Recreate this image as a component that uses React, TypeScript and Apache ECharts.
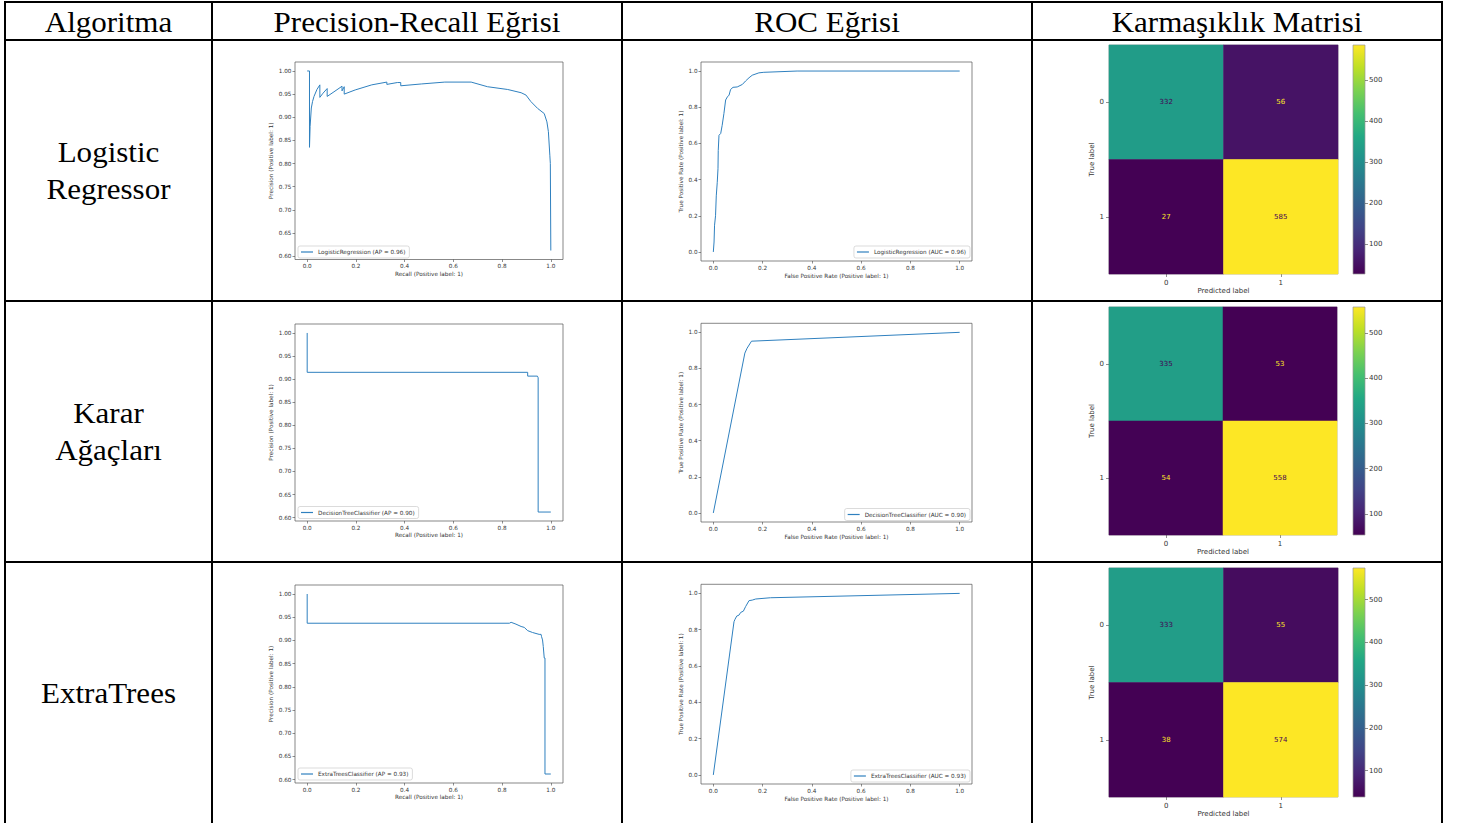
import React, { useEffect, useRef } from 'react';
import * as echarts from 'echarts';

const W = 1458;
const H = 823;

// ---------- data ----------
const headers = ['Algoritma', 'Precision-Recall Eğrisi', 'ROC Eğrisi', 'Karmaşıklık Matrisi'];
const rowLabels = [['Logistic', 'Regressor'], ['Karar', 'Ağaçları'], ['ExtraTrees']];
const modelNames = ['LogisticRegression', 'DecisionTreeClassifier', 'ExtraTreesClassifier'];
const apScores = ['0.96', '0.90', '0.93'];
const aucScores = ['0.96', '0.90', '0.93'];

const prLogistic = [
  [0.0, 1.0], [0.0095, 1.0], [0.0095, 0.835], [0.012, 0.88], [0.017, 0.92], [0.022, 0.934],
  [0.028, 0.945], [0.04, 0.96], [0.052, 0.97], [0.052, 0.943], [0.065, 0.952], [0.082, 0.962],
  [0.082, 0.945], [0.11, 0.955], [0.143, 0.967], [0.143, 0.957], [0.152, 0.966], [0.152, 0.95],
  [0.197, 0.959], [0.265, 0.97], [0.327, 0.976], [0.327, 0.971], [0.37, 0.975], [0.384, 0.975],
  [0.384, 0.968], [0.47, 0.972], [0.565, 0.976], [0.673, 0.976], [0.74, 0.966], [0.823, 0.96],
  [0.878, 0.953], [0.898, 0.948], [0.918, 0.934], [0.946, 0.919], [0.973, 0.908], [0.984, 0.89],
  [0.99, 0.869], [0.996, 0.818], [0.998, 0.8], [1.0, 0.612],
];
const prTree = [
  [0.0, 1.0], [0.0, 0.9147], [0.905, 0.9147], [0.905, 0.9065], [0.945, 0.9065], [0.948, 0.903],
  [0.948, 0.612], [1.0, 0.612],
];
const prExtra = [
  [0.0, 1.0], [0.0, 0.937], [0.83, 0.937], [0.837, 0.939], [0.857, 0.935], [0.878, 0.93],
  [0.891, 0.928], [0.905, 0.921], [0.925, 0.917], [0.952, 0.913], [0.96, 0.913], [0.962, 0.908],
  [0.966, 0.901], [0.969, 0.887], [0.973, 0.862], [0.976, 0.862], [0.976, 0.612], [1.0, 0.612],
];

const rocLogistic = [
  [0, 0], [0.003, 0.055], [0.005, 0.148], [0.009, 0.2], [0.012, 0.31], [0.016, 0.385],
  [0.019, 0.46], [0.02, 0.56], [0.023, 0.645], [0.03, 0.655], [0.036, 0.7], [0.043, 0.765],
  [0.05, 0.84], [0.057, 0.857], [0.064, 0.867], [0.07, 0.898], [0.08, 0.91], [0.097, 0.912],
  [0.118, 0.926], [0.131, 0.945], [0.145, 0.963], [0.158, 0.977], [0.185, 0.99], [0.205, 0.993],
  [0.34, 1.0], [1.0, 1.0],
];
const rocTree = [[0, 0], [0.128, 0.885], [0.137, 0.912], [0.155, 0.951], [1.0, 1.0]];
const rocExtra = [
  [0, 0], [0.084, 0.844], [0.088, 0.857], [0.095, 0.875], [0.104, 0.88], [0.111, 0.895],
  [0.122, 0.902], [0.131, 0.927], [0.145, 0.96], [0.158, 0.963], [0.172, 0.969], [0.232, 0.976],
  [1.0, 1.0],
];

const cmLabels = ['0', '1'];
const cmLogistic = [[332, 56], [27, 585]];
const cmTree = [[335, 53], [54, 558]];
const cmExtra = [[333, 55], [38, 574]];

const prTicksX = [0, 0.2, 0.4, 0.6, 0.8, 1.0];
const prTicksY = [0.6, 0.65, 0.7, 0.75, 0.8, 0.85, 0.9, 0.95, 1.0];
const rocTicks = [0, 0.2, 0.4, 0.6, 0.8, 1.0];
const cbTicks = [100, 200, 300, 400, 500];

const prCurves = [prLogistic, prTree, prExtra];
const rocCurves = [rocLogistic, rocTree, rocExtra];
const cms = [cmLogistic, cmTree, cmExtra];

// ---------- layout / style ----------
const colX = [5, 212, 622, 1032, 1442];
const rowY = [2, 40, 301, 562];
const prBoxes = [
  { l: 295, t: 62, w: 268, h: 197.5 },
  { l: 295, t: 324, w: 268, h: 197 },
  { l: 295, t: 585, w: 268, h: 198 },
];
const rocBoxes = [
  { l: 701, t: 62, w: 271, h: 199 },
  { l: 701, t: 323.3, w: 271, h: 198.7 },
  { l: 701, t: 584.3, w: 271, h: 199.7 },
];
const cmBoxes = [
  { l: 1109, t: 45, s: 229 },
  { l: 1109, t: 307, s: 228 },
  { l: 1109, t: 568, s: 229 },
];
const cbX = 1353;
const cbW = 12;
const prLegendTop = [246, 506.5, 768];
const rocLegendTop = [246, 508.5, 770];

const viridis = [
  '#440154', '#482475', '#414487', '#355f8d', '#2a788e', '#21918c',
  '#22a884', '#44bf70', '#7ad151', '#bddf26', '#fde725',
];
const lineColor = '#2f80bf';
const mplFont = 'DejaVu Sans';
const fs = 5.7;
const txt = '#333';

function buildOption() {
  const grid: any[] = [];
  const xAxis: any[] = [];
  const yAxis: any[] = [];
  const series: any[] = [];
  const legend: any[] = [];
  const visualMap: any[] = [];
  const graphic: any[] = [];

  const baseAxis = (ticks: number[], digits: number, name: string, gap: number, extra: any) => ({
    type: 'value',
    axisLine: { show: false, onZero: false },
    splitLine: { show: false },
    axisTick: { show: true, length: 2.5, lineStyle: { color: '#444', width: 0.6 }, customValues: ticks },
    axisLabel: {
      fontSize: fs, color: txt, margin: 3.5, fontFamily: mplFont, customValues: ticks,
      formatter: (v: number) => v.toFixed(digits),
    },
    name, nameLocation: 'middle', nameGap: gap,
    nameTextStyle: { fontSize: fs, color: txt, fontFamily: mplFont },
    ...extra,
  });

  const boxGrid = (l: number, t: number, w: number, h: number) => ({
    left: l, top: t, width: w, height: h, show: true, borderColor: '#555', borderWidth: 0.7,
    backgroundColor: '#fff', outerBoundsMode: 'none', containLabel: false,
  });

  const legendBase = {
    icon: 'rect', itemWidth: 12, itemHeight: 1.2, padding: [3, 4, 3, 3],
    borderColor: '#ccc', borderWidth: 0.7, borderRadius: 2, backgroundColor: '#fff', selectedMode: false,
    textStyle: { fontSize: fs, color: txt, fontFamily: mplFont },
  };

  for (let i = 0; i < 3; i++) {
    // PR curve
    const pb = prBoxes[i];
    const gPR = grid.length;
    grid.push(boxGrid(pb.l, pb.t, pb.w, pb.h));
    xAxis.push(baseAxis(prTicksX, 1, 'Recall (Positive label: 1)', 11, { gridIndex: gPR, min: -0.05, max: 1.05 }));
    yAxis.push(baseAxis(prTicksY, 2, 'Precision (Positive label: 1)', 21, { gridIndex: gPR, min: 0.5926, max: 1.0194 }));
    const prName = `${modelNames[i]} (AP = ${apScores[i]})`;
    series.push({
      type: 'line', name: prName, xAxisIndex: xAxis.length - 1, yAxisIndex: yAxis.length - 1,
      data: prCurves[i], showSymbol: false, symbol: 'none', lineStyle: { color: lineColor, width: 1 },
      itemStyle: { color: lineColor }, silent: true,
    });
    legend.push({ ...legendBase, data: [prName], left: pb.l + 3, top: prLegendTop[i] });

    // ROC curve
    const rb = rocBoxes[i];
    const gROC = grid.length;
    grid.push(boxGrid(rb.l, rb.t, rb.w, rb.h));
    xAxis.push(baseAxis(rocTicks, 1, 'False Positive Rate (Positive label: 1)', 12, { gridIndex: gROC, min: -0.05, max: 1.05 }));
    yAxis.push(baseAxis(rocTicks, 1, 'True Positive Rate (Positive label: 1)', 17, { gridIndex: gROC, min: -0.05, max: 1.05 }));
    const rocName = `${modelNames[i]} (AUC = ${aucScores[i]})`;
    series.push({
      type: 'line', name: rocName, xAxisIndex: xAxis.length - 1, yAxisIndex: yAxis.length - 1,
      data: rocCurves[i], showSymbol: false, symbol: 'none', lineStyle: { color: lineColor, width: 1 },
      itemStyle: { color: lineColor }, silent: true,
    });
    legend.push({ ...legendBase, data: [rocName], right: W - (rb.l + rb.w) + 2, top: rocLegendTop[i] });

    // Confusion matrix
    const cb = cmBoxes[i];
    const m = cms[i];
    const flat = m.flat();
    const vmin = Math.min(...flat);
    const vmax = Math.max(...flat);
    const thr = (vmin + vmax) / 2;
    const gCM = grid.length;
    grid.push({
      left: cb.l, top: cb.t, width: cb.s, height: cb.s, show: true, borderColor: '#999', borderWidth: 0.7,
      outerBoundsMode: 'none', containLabel: false,
    });
    const catAxisCommon = {
      gridIndex: gCM, type: 'category', data: cmLabels,
      axisLine: { show: false, onZero: false }, splitLine: { show: false },
      axisTick: { show: true, alignWithLabel: true, length: 3, lineStyle: { color: '#444', width: 0.6 } },
      axisLabel: { fontSize: 7, color: txt, fontFamily: mplFont, margin: 5 },
      nameLocation: 'middle', nameTextStyle: { fontSize: 7, color: txt, fontFamily: mplFont },
    };
    xAxis.push({ ...catAxisCommon, name: 'Predicted label', nameGap: 13 });
    yAxis.push({ ...catAxisCommon, inverse: true, name: 'True label', nameGap: 13 });
    const cells: any[] = [];
    m.forEach((row, r) =>
      row.forEach((v, c) => {
        cells.push({ value: [c, r, v], label: { color: v < thr ? viridis[viridis.length - 1] : viridis[0] } });
      }),
    );
    const sIdx = series.length;
    series.push({
      type: 'heatmap', xAxisIndex: xAxis.length - 1, yAxisIndex: yAxis.length - 1, data: cells,
      label: { show: true, fontSize: 7, fontFamily: mplFont, formatter: (p: any) => String(p.value[2]) },
      emphasis: { disabled: true }, silent: true,
    });
    visualMap.push({
      type: 'continuous', show: false, seriesIndex: sIdx, dimension: 2, min: vmin, max: vmax,
      inRange: { color: viridis },
    });

    // Colorbar
    const gCB = grid.length;
    grid.push({
      left: cbX, top: cb.t, width: cbW, height: cb.s, show: true, borderColor: '#999', borderWidth: 0.7,
      outerBoundsMode: 'none', containLabel: false,
      backgroundColor: {
        type: 'linear', x: 0, y: 0, x2: 0, y2: 1,
        colorStops: viridis.map((c, k) => ({ offset: 1 - k / (viridis.length - 1), color: c })).reverse(),
      },
    });
    xAxis.push({ gridIndex: gCB, type: 'value', show: false, min: 0, max: 1 });
    yAxis.push({
      gridIndex: gCB, type: 'value', position: 'right', min: vmin, max: vmax,
      axisLine: { show: false, onZero: false }, splitLine: { show: false },
      axisTick: { show: true, length: 3, lineStyle: { color: '#444', width: 0.6 }, customValues: cbTicks },
      axisLabel: { fontSize: 7, color: txt, fontFamily: mplFont, margin: 4, customValues: cbTicks },
    });
  }

  // Table lines
  for (let r = 0; r < rowY.length; r++) {
    graphic.push({
      type: 'line', z: 100, shape: { x1: colX[0] - 1, y1: rowY[r], x2: colX[colX.length - 1] + 1, y2: rowY[r] },
      style: { stroke: '#000', lineWidth: 2 }, silent: true,
    });
  }
  for (let c = 0; c < colX.length; c++) {
    graphic.push({
      type: 'line', z: 100, shape: { x1: colX[c], y1: rowY[0], x2: colX[c], y2: H },
      style: { stroke: '#000', lineWidth: 2 }, silent: true,
    });
  }
  const serif = { fontSize: 29, fontFamily: 'Liberation Serif', fill: '#000', align: 'center', verticalAlign: 'middle' };
  // Header texts
  headers.forEach((h, c) => {
    graphic.push({
      type: 'text', x: (colX[c] + colX[c + 1]) / 2, y: 22, scaleX: 1.07, silent: true,
      style: { ...serif, text: h },
    });
  });
  // Row labels
  rowLabels.forEach((lines, r) => {
    const cy = (rowY[r + 1] + (r + 2 < rowY.length ? rowY[r + 2] : H)) / 2;
    const lh = 37;
    lines.forEach((t, k) => {
      graphic.push({
        type: 'text', x: (colX[0] + colX[1]) / 2, y: cy + (k - (lines.length - 1) / 2) * lh, scaleX: 1.07, silent: true,
        style: { ...serif, text: t },
      });
    });
  });

  return {
    animation: false,
    backgroundColor: '#fff',
    grid, xAxis, yAxis, series, legend, visualMap, graphic,
  };
}

export default function App() {
  const ref = useRef<HTMLDivElement>(null);
  useEffect(() => {
    const chart = echarts.init(ref.current!, null, { renderer: 'svg' });
    chart.setOption(buildOption() as any);
    return () => chart.dispose();
  }, []);
  return (
    <div
      ref={ref}
      style={{ position: 'fixed', left: 0, top: 0, width: W, height: H, background: '#fff', overflow: 'hidden' }}
    />
  );
}
